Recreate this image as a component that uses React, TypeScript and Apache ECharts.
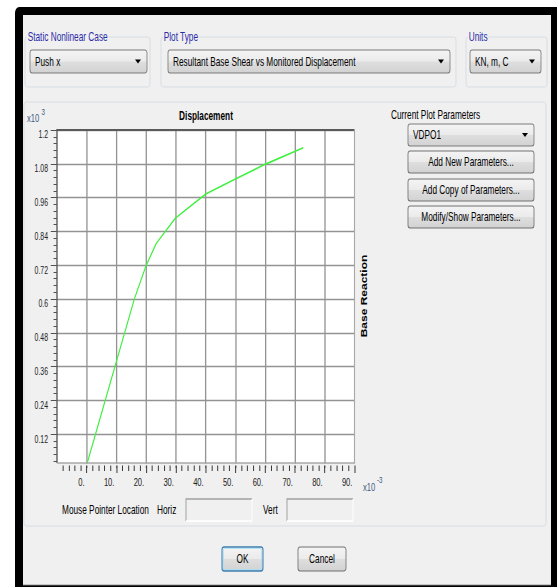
import React, { useEffect, useRef } from 'react';
import * as echarts from 'echarts';

// The reference screenshot is squeezed horizontally; we draw in an unsqueezed
// space and compress it with a CSS scaleX so the texts keep their look.
const S = 0.69;
const W = 557;
const H = 587;
const CW = Math.ceil(W / S);
const sx = (v: number) => v / S;

// ---- data (displacement x10^-3 m, base reaction x10^3 kN) ----
const displacement = [0.2, 16.0, 20.0, 23.4, 29.8, 40.0, 49.8, 59.9, 72.8];
const baseReaction = [0.019, 0.6, 0.72, 0.798, 0.887, 0.973, 1.025, 1.078, 1.137];
const xMin = -10;
const xMax = 90;
const xStep = 10;
const yMin = 0;
const yMax = 1.2;
const yStep = 0.12;

const caseOptions = ['Push x'];
const plotTypes = ['Resultant Base Shear vs Monitored Displacement'];
const unitOptions = ['KN, m, C'];
const plotParams = ['VDPO1'];
const paramButtons = ['Add New Parameters...', 'Add Copy of Parameters...', 'Modify/Show Parameters...'];

const FONT = '"Liberation Sans", Arial, sans-serif';
const f = (size: number, weight = 'normal') => `${weight} ${size}px ${FONT}`;

const BG = '#f0f0f0';
const TITLE = '#2b2ba8';

function text(x: number, y: number, t: string, opts: any = {}) {
  const align = opts.align || 'left';
  const va = opts.va || 'middle';
  return {
    type: 'text',
    x: sx(x),
    y,
    z: opts.z ?? 20,
    rotation: opts.rotation || 0,
    silent: true,
    style: {
      text: t,
      font: opts.font || f(12),
      fill: opts.fill || '#000',
      align,
      textAlign: align,
      verticalAlign: va,
      textVerticalAlign: va,
      backgroundColor: opts.bg,
      padding: opts.padding,
    },
  };
}

function rect(x: number, y: number, w: number, h: number, style: any, z = 0, r: any = 0) {
  return {
    type: 'rect',
    z,
    silent: true,
    shape: { x: sx(x), y, width: sx(w), height: h, r },
    style,
  };
}

const btnFill = () =>
  new echarts.graphic.LinearGradient(0, 0, 0, 1, [
    { offset: 0, color: '#f4f4f4' },
    { offset: 0.48, color: '#ebebeb' },
    { offset: 0.52, color: '#dedede' },
    { offset: 1, color: '#d2d2d2' },
  ]);

function groupBox(x: number, y: number, w: number, h: number, title?: string) {
  const els: any[] = [
    rect(x, y, w, h, { fill: 'none', stroke: '#d3dbe1', lineWidth: 1 }, 1, 3),
  ];
  if (title) {
    els.push(text(x + 2, y, title, { fill: TITLE, bg: BG, padding: [0, 1, 0, 1] }));
  }
  return els;
}

function dropdown(x: number, y: number, w: number, h: number, label: string) {
  const cx = x + w - 9;
  const cy = y + h / 2;
  return [
    rect(x, y, w, h, { fill: btnFill(), stroke: '#7a7a7a', lineWidth: 1.2 }, 2, 3),
    text(x + 5, cy, label),
    {
      type: 'polygon',
      z: 20,
      silent: true,
      shape: { points: [[sx(cx - 3), cy - 2], [sx(cx + 3), cy - 2], [sx(cx), cy + 2]] },
      style: { fill: '#000' },
    },
  ];
}

function button(x: number, y: number, w: number, h: number, label: string, def = false) {
  const els: any[] = [
    rect(x, y, w, h, { fill: btnFill(), stroke: def ? '#3c7fb1' : '#707070', lineWidth: def ? 1.5 : 1.2 }, 2, 3),
    text(x + w / 2, y + h / 2, label, { align: 'center' }),
  ];
  if (def) {
    els.push(rect(x + 1.5, y + 1.5, w - 3, h - 3, { fill: 'none', stroke: '#a8e0f8', lineWidth: 1 }, 3, 2));
  }
  return els;
}

function sunkenBox(x: number, y: number, w: number, h: number) {
  return [
    rect(x, y, w, h, { fill: BG, stroke: 'none' }, 2),
    {
      type: 'polyline', z: 3, silent: true,
      shape: { points: [[sx(x), y + h], [sx(x), y], [sx(x + w), y]] },
      style: { stroke: '#a0a0a0', lineWidth: 1.4, fill: 'none' },
    },
    {
      type: 'polyline', z: 3, silent: true,
      shape: { points: [[sx(x + w), y], [sx(x + w), y + h], [sx(x), y + h]] },
      style: { stroke: '#ffffff', lineWidth: 1.4, fill: 'none' },
    },
  ];
}

// plot frame (screen pixels)
const PL = 57;
const PR = 354.5;
const PT = 130;
const PB = 463;
const Y0 = 468; // position of value 0 on the vertical axis

function buildOption() {
  const graphics: any[] = [
    // window frame
    rect(15, 7, W - 15 + 5, H, { fill: '#000' }, -20, [6, 6, 0, 0]),
    rect(23, 15, 551 - 23, 570, { fill: BG }, -19),
    {
      type: 'line', z: -18, silent: true,
      shape: { x1: sx(23), y1: 585, x2: sx(551), y2: 585 },
      style: { stroke: '#8a8a8a', lineWidth: 1 },
    },
    // top group boxes
    ...groupBox(25, 37, 125, 50, 'Static Nonlinear Case'),
    ...dropdown(30, 50, 117, 23, caseOptions[0]),
    ...groupBox(161, 37, 295, 50, 'Plot Type'),
    ...dropdown(168, 50, 282, 23, plotTypes[0]),
    ...groupBox(466, 37, 81, 50, 'Units'),
    ...dropdown(470, 50, 71, 23, unitOptions[0]),
    // plot group box
    ...groupBox(24, 102, 522, 424),
    // plot background
    rect(PL, PT, PR - PL, PB - PT, { fill: '#ffffff' }, -5),
    // plot border
    {
      type: 'polyline', z: 30, silent: true,
      shape: { points: [[sx(PL), PB], [sx(PL), PT], [sx(PR), PT]] },
      style: { stroke: '#5a5a5a', lineWidth: 2, fill: 'none' },
    },
    {
      type: 'polyline', z: 30, silent: true,
      shape: { points: [[sx(PR), PT], [sx(PR), PB], [sx(PL), PB]] },
      style: { stroke: '#a8a8a8', lineWidth: 1.6, fill: 'none' },
    },
    // covers for the parts of the axes below the plotted range
    rect(PL + 0.5, PB + 0.8, PR - PL + 1, 1.6, { fill: BG }, 25),
    rect(44, PB + 1.2, PL - 44 - 1, 8, { fill: BG }, 25),
    rect(PL - 2, PB + 1, 4.5, 12, { fill: BG }, 25),
    // titles
    text(206, 116, 'Displacement', { align: 'center', font: f(12, 'bold') }),
    text(27, 118, 'x10', { font: f(11), fill: '#3d5a7e' }),
    text(41.5, 112, '3', { font: f(9), fill: '#3d5a7e' }),
    text(363, 487, 'x10', { font: f(11), fill: '#3d5a7e' }),
    text(377, 480, '-3', { font: f(9), fill: '#3d5a7e' }),
    text(364, 296, 'Base Reaction', { align: 'center', font: f(12, 'bold'), rotation: Math.PI / 2 }),
    // right panel
    text(391, 115, 'Current Plot Parameters'),
    ...dropdown(408, 124, 126, 22, plotParams[0]),
    ...button(408, 151, 126, 22, paramButtons[0]),
    ...button(408, 179, 126, 22, paramButtons[1]),
    ...button(408, 206, 126, 22, paramButtons[2]),
    // mouse pointer location
    text(62, 510, 'Mouse Pointer Location'),
    text(157, 510, 'Horiz'),
    ...sunkenBox(186, 499, 66, 22),
    text(263, 510, 'Vert'),
    ...sunkenBox(287, 499, 66, 22),
    // dialog buttons
    ...button(222, 547, 41, 24, 'OK', true),
    ...button(298, 547, 48, 24, 'Cancel'),
  ];

  return {
    animation: false,
    backgroundColor: '#ffffff',
    grid: {
      left: sx(PL),
      top: PT,
      width: sx(PR - PL),
      height: Y0 - PT,
      containLabel: false,
      outerBoundsMode: 'none',
      show: false,
    },
    xAxis: {
      type: 'value',
      min: xMin,
      max: xMax,
      interval: xStep,
      position: 'bottom',
      offset: -(Y0 - PB - 2),
      axisLine: { show: false, onZero: false },
      axisTick: { show: true, length: 8, lineStyle: { color: '#333', width: 1.4 } },
      minorTick: { show: true, splitNumber: 5, length: 6, lineStyle: { color: '#333', width: 1.4 } },
      axisLabel: {
        margin: 11,
        align: 'right',
        padding: [0, 3, 0, 0],
        fontFamily: FONT,
        fontSize: 11,
        color: '#222',
        formatter: (v: number) => (v < 0 ? '' : `${v}.`),
      },
      splitLine: { show: true, showMinLine: false, showMaxLine: false, lineStyle: { color: '#939393', width: 1.9 } },
    },
    yAxis: {
      type: 'value',
      min: yMin,
      max: yMax,
      interval: yStep,
      position: 'left',
      axisLine: { show: false, onZero: false },
      axisTick: { show: true, length: 9, lineStyle: { color: '#333', width: 1 } },
      minorTick: { show: true, splitNumber: 5, length: 5, lineStyle: { color: '#333', width: 1 } },
      axisLabel: {
        margin: 13,
        verticalAlign: 'top',
        fontFamily: FONT,
        fontSize: 10,
        color: '#222',
        formatter: (v: number) => (v <= 0 ? '' : String(parseFloat(v.toFixed(2)))),
      },
      splitLine: { show: true, showMinLine: false, lineStyle: { color: '#939393', width: 1.3 } },
    },
    series: [
      {
        type: 'line',
        data: displacement.map((d, i) => [d, baseReaction[i]]),
        showSymbol: false,
        symbol: 'none',
        clip: true,
        lineStyle: { color: '#3cf03c', width: 1.6 },
        z: 10,
      },
    ],
    graphic: { elements: graphics },
  };
}

export default function App() {
  const ref = useRef<HTMLDivElement>(null);
  useEffect(() => {
    if (!ref.current) return;
    const chart = echarts.init(ref.current, null, { renderer: 'svg', width: CW, height: H });
    chart.setOption(buildOption() as any);
    return () => chart.dispose();
  }, []);
  return (
    <div
      ref={ref}
      style={{
        position: 'absolute',
        left: 0,
        top: 0,
        width: CW,
        height: H,
        transform: `scaleX(${S})`,
        transformOrigin: '0 0',
      }}
    />
  );
}
